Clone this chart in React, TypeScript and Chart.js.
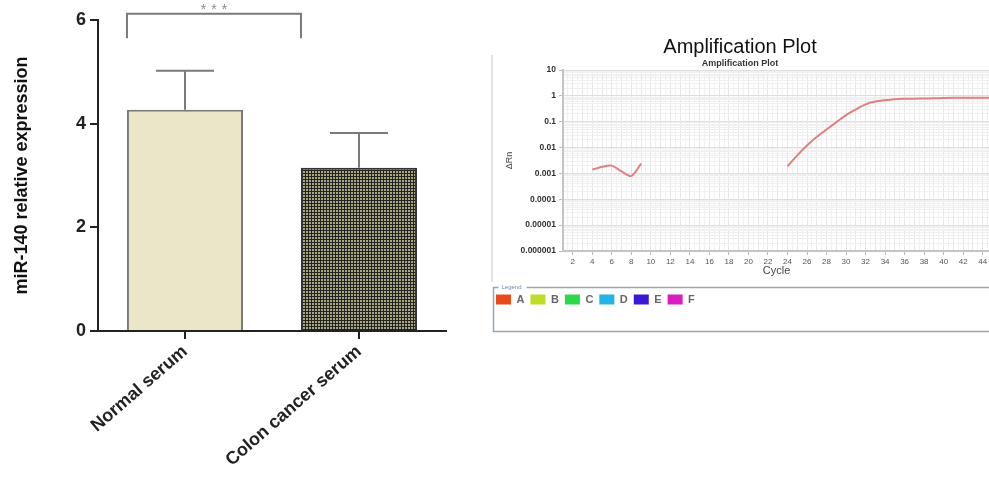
import React, { useEffect, useRef } from 'react';
import { Chart, registerables } from 'chart.js';

Chart.register(...registerables);

// ---------- Left panel: bar chart ----------
const groups = ['Normal serum', 'Colon cancer serum'];
const means = [4.27, 3.15];
const errors = [0.75, 0.67];
const barTicks = [0, 2, 4, 6];
const sigLabel = '***';
const sigTop = 6.12;
const sigBottom = 5.65;

// ---------- Right panel: amplification plot ----------
const earlyCycles = [4, 5, 6, 7, 8, 9];
const earlyRn = [0.0014, 0.0018, 0.002, 0.0012, 0.0008, 0.0024];
const lateCycles = [24, 25, 26, 27, 28, 29, 30, 31, 32, 33, 34, 35, 36, 37, 38, 39, 40, 41, 42, 43, 44, 45];
const lateRn = [0.0019, 0.005, 0.012, 0.026, 0.05, 0.095, 0.18, 0.3, 0.47, 0.6, 0.68, 0.74, 0.77, 0.78, 0.79, 0.8, 0.83, 0.84, 0.84, 0.84, 0.84, 0.84];
const decadeValues = [10, 1, 0.1, 0.01, 0.001, 0.0001, 0.00001, 0.000001];
const decadeLabels = ['10', '1', '0.1', '0.01', '0.001', '0.0001', '0.00001', '0.000001'];
const cycleLabels = [2, 4, 6, 8, 10, 12, 14, 16, 18, 20, 22, 24, 26, 28, 30, 32, 34, 36, 38, 40, 42, 44];
const legendNames = ['A', 'B', 'C', 'D', 'E', 'F'];
const legendColors = ['#e84a1c', '#bedc28', '#2ad848', '#22b4e6', '#3a18d4', '#dc1cc0'];

const FONT = '"Liberation Sans", Arial, sans-serif';

function BarPanel() {
  const ref = useRef<HTMLCanvasElement>(null);
  useEffect(() => {
    const canvas = ref.current!;
    const ctx = canvas.getContext('2d')!;
    const tile = document.createElement('canvas');
    tile.width = 3;
    tile.height = 3;
    const t = tile.getContext('2d')!;
    t.fillStyle = '#24241e';
    t.fillRect(0, 0, 3, 3);
    t.fillStyle = '#aaa68a';
    t.fillRect(0, 0, 2, 2);
    const pattern = ctx.createPattern(tile, 'repeat')!;

    const overlay = {
      id: 'errorsAndBracket',
      afterDatasetsDraw(chart: any) {
        const meta = chart.getDatasetMeta(0);
        const y = chart.scales.y;
        const c = chart.ctx;
        c.save();
        c.strokeStyle = '#7a7a7a';
        c.lineWidth = 2;
        meta.data.forEach((bar: any, i: number) => {
          const top = y.getPixelForValue(means[i] + errors[i]);
          const base = y.getPixelForValue(means[i]);
          const half = bar.width / 4;
          c.beginPath();
          c.moveTo(bar.x, base);
          c.lineTo(bar.x, top);
          c.moveTo(bar.x - half, top);
          c.lineTo(bar.x + half, top);
          c.stroke();
        });
        const b0 = meta.data[0];
        const b1 = meta.data[1];
        const x0 = b0.x - b0.width / 2;
        const x1 = b1.x - b1.width / 2;
        const yt = y.getPixelForValue(sigTop);
        const yb = y.getPixelForValue(sigBottom);
        c.beginPath();
        c.moveTo(x0, yb);
        c.lineTo(x0, yt);
        c.lineTo(x1, yt);
        c.lineTo(x1, yb);
        c.stroke();
        c.fillStyle = '#8a8a8a';
        c.font = '14px ' + FONT;
        (c as any).letterSpacing = '5px';
        c.textAlign = 'center';
        c.textBaseline = 'alphabetic';
        c.fillText(sigLabel, (x0 + x1) / 2 + 2.5, yt + 0.5);
        c.restore();
      },
    };

    const chart = new Chart(ctx, {
      type: 'bar',
      data: {
        labels: groups,
        datasets: [
          {
            data: means,
            backgroundColor: ['#ece6c8', pattern as any],
            borderColor: ['#7a7a7a', '#333333'],
            borderWidth: 2,
            barPercentage: 0.667,
            categoryPercentage: 1,
          },
        ],
      },
      options: {
        animation: false,
        responsive: false,
        layout: { padding: { top: 20, right: 24, left: 0, bottom: 0 } },
        plugins: { legend: { display: false }, tooltip: { enabled: false } },
        scales: {
          x: {
            offset: true,
            grid: { display: true, offset: false, drawOnChartArea: false, drawTicks: true, tickLength: 8, color: '#222', lineWidth: 2 },
            border: { display: true, color: '#222', width: 2 },
            ticks: { minRotation: 41, maxRotation: 41, font: { family: FONT, size: 18, weight: 'bold' }, color: '#222', padding: 2 },
            afterFit: (s: any) => {
              s.height = 146;
            },
          },
          y: {
            min: 0,
            max: 6,
            afterBuildTicks: (s: any) => {
              s.ticks = barTicks.map((v) => ({ value: v }));
            },
            grid: { drawOnChartArea: false, tickLength: 8, color: '#222', lineWidth: 2 },
            border: { display: true, color: '#222', width: 2 },
            ticks: { font: { family: FONT, size: 18, weight: 'bold' }, color: '#222', padding: 4 },
            title: {
              display: true,
              text: 'miR-140 relative expression',
              font: { family: FONT, size: 18, weight: 'bold' },
              color: '#111',
              padding: { top: 11, bottom: 0 },
            },
            afterFit: (s: any) => {
              s.width = 98;
            },
          },
        },
      },
      plugins: [overlay],
    } as any);
    return () => chart.destroy();
  }, []);
  return (
    <canvas
      ref={ref}
      width={470}
      height={477}
      style={{ position: 'absolute', left: 0, top: 0, width: 470, height: 477 }}
    />
  );
}

function isDecade(v: number) {
  const l = Math.log10(v);
  return Math.abs(l - Math.round(l)) < 1e-9;
}

function AmpPanel() {
  const ref = useRef<HTMLCanvasElement>(null);
  useEffect(() => {
    const canvas = ref.current!;
    const ctx = canvas.getContext('2d')!;

    const points: any[] = [
      ...earlyCycles.map((c, i) => ({ x: c, y: earlyRn[i] })),
      { x: (earlyCycles[earlyCycles.length - 1] + lateCycles[0]) / 2, y: null },
      ...lateCycles.map((c, i) => ({ x: c, y: lateRn[i] })),
    ];

    const frame = {
      id: 'frame',
      beforeDraw(chart: any) {
        const c = chart.ctx;
        const lg = chart.legend;
        c.save();
        c.strokeStyle = '#e2e2e2';
        c.lineWidth = 2;
        c.beginPath();
        c.moveTo(2, 25);
        c.lineTo(2, lg.top - 6);
        c.stroke();
        c.restore();
      },
      afterDraw(chart: any) {
        const c = chart.ctx;
        const lg = chart.legend;
        const left = 3.5;
        const top = lg.top - 0.5;
        const bottom = chart.height - 3.5;
        const right = chart.width + 5;
        c.save();
        c.strokeStyle = '#9aa6b4';
        c.lineWidth = 1.5;
        c.font = '6px ' + FONT;
        const label = 'Legend';
        const tw = c.measureText(label).width;
        c.beginPath();
        c.moveTo(left + 5, top);
        c.lineTo(left, top);
        c.lineTo(left, bottom);
        c.lineTo(right, bottom);
        c.moveTo(left + 10 + tw + 3, top);
        c.lineTo(right, top);
        c.stroke();
        c.fillStyle = '#6a88b8';
        c.textBaseline = 'middle';
        c.fillText(label, left + 8, top);
        c.restore();
      },
    };

    const datasets: any[] = legendNames.map((name, i) => ({
      label: name,
      data: i === 0 ? points : [],
      borderColor: '#e08080',
      backgroundColor: legendColors[i],
      borderWidth: 2,
      pointRadius: 0,
      tension: 0.3,
      spanGaps: false,
      fill: false,
    }));

    const chart = new Chart(ctx, {
      type: 'line',
      data: { datasets },
      options: {
        animation: false,
        responsive: false,
        layout: { padding: { left: 0, right: 0, top: 0, bottom: 20 } },
        plugins: {
          title: {
            display: true,
            text: 'Amplification Plot',
            font: { family: FONT, size: 20, weight: 'normal' },
            color: '#111',
            padding: { top: 5, bottom: 0 },
          },
          subtitle: {
            display: true,
            text: 'Amplification Plot',
            font: { family: FONT, size: 9, weight: 'bold', lineHeight: 1 },
            color: '#333',
            padding: { top: 0, bottom: 2 },
          },
          legend: {
            position: 'bottom',
            align: 'start',
            labels: {
              boxWidth: 15,
              boxHeight: 10,
              padding: 6,
              font: { family: FONT, size: 11, weight: 'bold' },
              color: '#666',
              generateLabels: (ch: any) =>
                ch.data.datasets.map((ds: any, i: number) => ({
                  text: ds.label,
                  fillStyle: legendColors[i],
                  strokeStyle: legendColors[i],
                  lineWidth: 0,
                  hidden: false,
                  datasetIndex: i,
                  fontColor: '#666',
                })),
            },
          },
          tooltip: { enabled: false },
        },
        scales: {
          x: {
            type: 'linear',
            min: 1,
            max: 44.75,
            afterBuildTicks: (s: any) => {
              const ticks: any[] = [];
              for (let v = 1; v <= 44.5; v += 0.5) ticks.push({ value: v });
              s.ticks = ticks;
            },
            ticks: {
              autoSkip: false,
              maxRotation: 0,
              font: { family: FONT, size: 8 },
              color: '#555',
              padding: 2,
              callback: (v: any) => (cycleLabels.includes(v) ? String(v) : ''),
            },
            grid: {
              color: (c: any) => (Number.isInteger(c.tick?.value) ? '#e6e6e6' : '#f1f1f1'),
              tickColor: (c: any) => (cycleLabels.includes(c.tick?.value) ? '#bbb' : 'rgba(0,0,0,0)'),
              tickLength: 4,
              lineWidth: 1,
            },
            border: { display: true, color: '#c4c4c4', width: 2 },
            title: { display: true, text: 'Cycle', font: { family: FONT, size: 11 }, color: '#444', padding: { top: 0, bottom: 10 } },
            afterFit: (s: any) => {
              s.height = 37;
            },
          },
          y: {
            type: 'logarithmic',
            min: decadeValues[decadeValues.length - 1],
            max: decadeValues[0],
            afterBuildTicks: (s: any) => {
              const ticks: any[] = [];
              for (let e = -6; e < 1; e++) {
                for (let k = 1; k <= 9; k++) ticks.push({ value: k * Math.pow(10, e) });
              }
              ticks.push({ value: 10 });
              s.ticks = ticks;
            },
            ticks: {
              autoSkip: false,
              font: { family: FONT, size: 8.5, weight: 'bold' },
              color: '#333',
              padding: 3,
              callback: (v: any) => {
                if (!isDecade(v)) return '';
                const idx = decadeValues.findIndex((d) => Math.abs(Math.log10(d) - Math.log10(v)) < 1e-6);
                return idx >= 0 ? decadeLabels[idx] : '';
              },
            },
            grid: {
              color: (c: any) => (c.tick && isDecade(c.tick.value) ? '#dedede' : '#f0f0f0'),
              tickColor: (c: any) => (c.tick && isDecade(c.tick.value) ? '#bbb' : 'rgba(0,0,0,0)'),
              tickLength: 4,
              lineWidth: 1,
            },
            border: { display: true, color: '#c4c4c4', width: 2 },
            title: { display: true, text: 'ΔRn', font: { family: FONT, size: 9 }, color: '#444', padding: { top: 14, bottom: 0 } },
            afterFit: (s: any) => {
              s.width = 73;
            },
          },
        },
      },
      plugins: [frame],
    } as any);
    return () => chart.destroy();
  }, []);
  return (
    <canvas
      ref={ref}
      width={500}
      height={305}
      style={{ position: 'absolute', left: 490, top: 30, width: 500, height: 305 }}
    />
  );
}

export default function App() {
  return (
    <div style={{ position: 'fixed', left: 0, top: 0, width: 989, height: 477, overflow: 'hidden', background: '#fff' }}>
      <BarPanel />
      <AmpPanel />
    </div>
  );
}
